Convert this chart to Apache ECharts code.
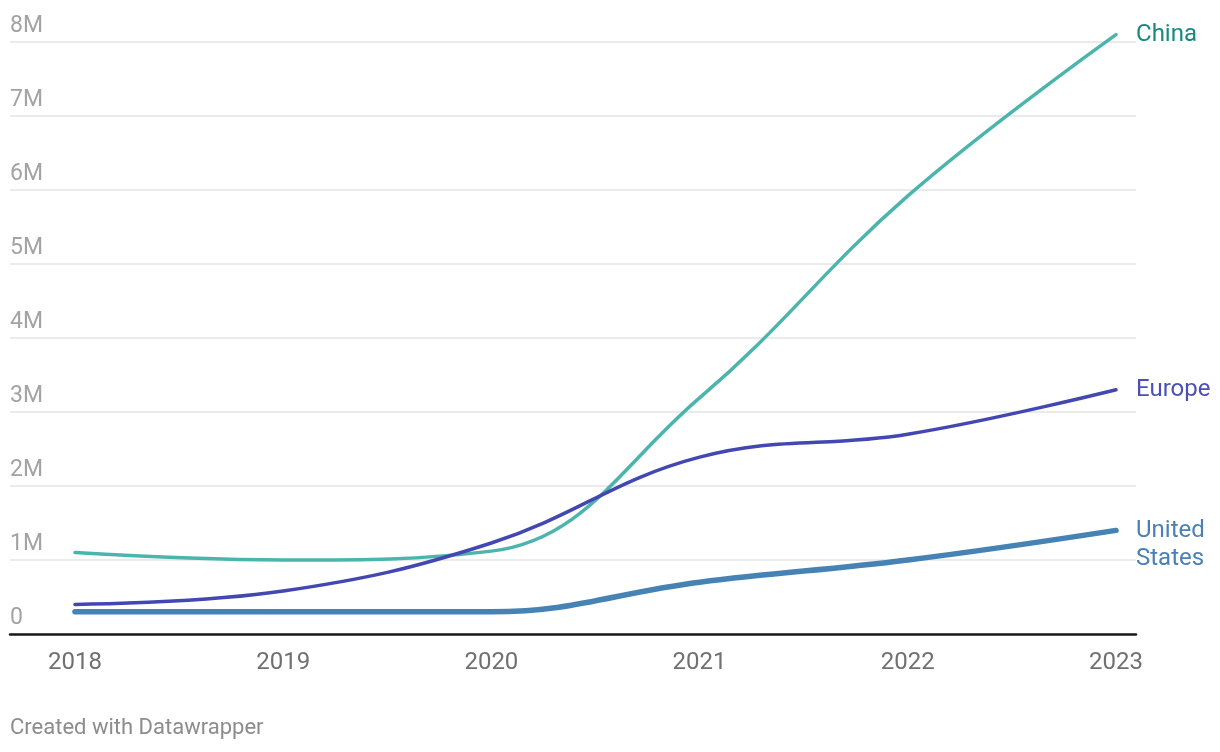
<!DOCTYPE html>
<html>
<head>
<meta charset="utf-8">
<script src="https://cdn.jsdelivr.net/npm/echarts@6/dist/echarts.min.js"></script>
<style>
html,body{margin:0;padding:0;background:#fff;}
#chart{width:1220px;height:752px;}
</style>
</head>
<body>
<div id="chart"></div>
<script>
const years = [2018, 2019, 2020, 2021, 2022, 2023];
const china = [1.10, 1.00, 1.12, 3.19, 5.92, 8.10];
const europe = [0.40, 0.58, 1.23, 2.39, 2.70, 3.30];
const unitedStates = [0.30, 0.30, 0.30, 0.70, 1.00, 1.40];
const yTicks = [0, 1, 2, 3, 4, 5, 6, 7, 8];
const seriesNames = ['China', 'Europe', 'United\nStates'];

const FONT = 'Roboto, "Noto Sans", sans-serif';
const pairs = arr => years.map((y, i) => [y, arr[i] * 1e6]);

const chart = echarts.init(document.getElementById('chart'), null, {renderer: 'canvas'});

function lineSeries(name, data, color, labelColor, width, offsetY) {
  return {
    type: 'line',
    name: name,
    data: pairs(data),
    smooth: 0.4,
    clip: false,
    showSymbol: false,
    symbol: 'none',
    lineStyle: {color: color, width: width, cap: 'round', join: 'round'},
    emphasis: {disabled: true},
    endLabel: {
      show: true,
      formatter: name,
      color: labelColor,
      fontFamily: FONT,
      fontSize: 24,
      lineHeight: 28,
      distance: 20,
      align: 'left',
      offset: [0, offsetY]
    }
  };
}

chart.setOption({
  animation: false,
  backgroundColor: '#ffffff',
  grid: {left: 10, right: 84, top: 42, bottom: 118, containLabel: false},
  xAxis: {
    type: 'value',
    min: 2017.688,
    max: 2023.096,
    axisLine: {show: true, onZero: false, lineStyle: {color: '#1a1a1a', width: 2.5}},
    axisTick: {show: false},
    splitLine: {show: false},
    axisLabel: {
      customValues: years,
      formatter: v => String(v),
      color: '#707070',
      fontFamily: FONT,
      fontSize: 24,
      margin: 17
    }
  },
  yAxis: {
    type: 'value',
    min: 0,
    max: 8e6,
    interval: 1e6,
    axisLine: {show: false},
    axisTick: {show: false},
    splitLine: {show: true, lineStyle: {color: '#e3e3e3', width: 1.5}},
    axisLabel: {
      inside: true,
      margin: 0,
      verticalAlign: 'bottom',
      align: 'left',
      padding: [0, 0, 4, 0],
      color: '#a3a3a3',
      fontFamily: FONT,
      fontSize: 23,
      formatter: v => (v === 0 ? '0' : (v / 1e6) + 'M')
    }
  },
  series: [
    lineSeries(seriesNames[0], china, '#4bb5ad', '#17897f', 3.5, 0),
    lineSeries(seriesNames[1], europe, '#4347b1', '#4b4fb6', 3.5, 0),
    lineSeries(seriesNames[2], unitedStates, '#4682b4', '#4a80b5', 5.5, 15)
  ],
  graphic: [{
    type: 'text',
    left: 10,
    top: 717,
    style: {
      text: 'Created with Datawrapper',
      fill: '#8c8c8c',
      font: '22px Roboto, "Noto Sans", sans-serif'
    }
  }]
});
</script>
</body>
</html>
